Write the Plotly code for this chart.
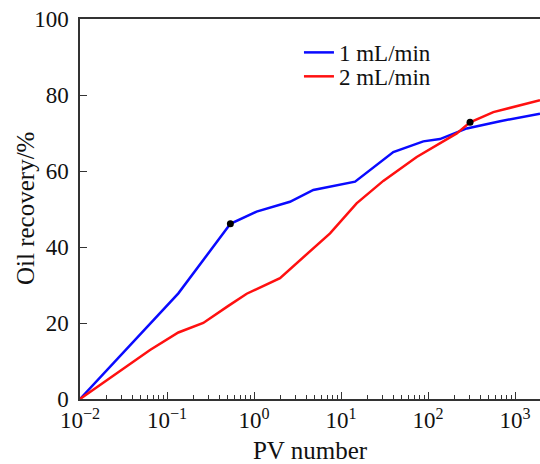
import plotly.graph_objects as go

# Data
pv_1 = [0.01, 0.135, 0.535, 1.07, 2.59, 4.81, 14.5, 39.9, 88.3, 137, 279, 673, 1936]
rec_1 = [0.0, 27.8, 46.1, 49.3, 51.9, 55.0, 57.2, 65.0, 67.8, 68.4, 71.2, 73.1, 75.1]

pv_2 = [0.01, 0.0638, 0.135, 0.261, 0.507, 0.824, 1.99, 3.6, 7.48, 15.1, 30.6, 74.1, 214, 304, 563, 1936]
rec_2 = [0.0, 12.9, 17.5, 20.0, 24.5, 27.7, 31.8, 37.0, 43.6, 51.5, 57.4, 63.7, 69.9, 72.8, 75.5, 78.6]

marker_pv = [0.535, 304]
marker_rec = [46.1, 72.8]

x_major = [0.01, 0.1, 1, 10, 100, 1000]
x_labels = ["10<sup>−2</sup>", "10<sup>−1</sup>", "10<sup>0</sup>", "10<sup>1</sup>", "10<sup>2</sup>", "10<sup>3</sup>"]
y_ticks = [0, 20, 40, 60, 80, 100]

minor_vals = [m * d for d in [0.01, 0.1, 1, 10, 100, 1000] for m in range(2, 10)]

FONT = "Liberation Serif"

fig = go.Figure()
fig.add_trace(go.Scatter(x=pv_1, y=rec_1, mode="lines", name="1 mL/min",
                         line=dict(color="#0a0aff", width=2.5), legend="legend"))
fig.add_trace(go.Scatter(x=pv_2, y=rec_2, mode="lines", name="2 mL/min",
                         line=dict(color="#ff1010", width=2.5), legend="legend2"))
fig.add_trace(go.Scatter(x=marker_pv, y=marker_rec, mode="markers", showlegend=False,
                         marker=dict(color="black", size=7)))

leg_common = dict(x=0.476, xanchor="left", yanchor="middle",
                  bgcolor="rgba(0,0,0,0)", font=dict(size=23, family=FONT, color="#111"))

fig.update_layout(
    width=540, height=464,
    margin=dict(l=80, r=0, t=19, b=65),
    paper_bgcolor="white", plot_bgcolor="white",
    font=dict(family=FONT, size=23, color="#111"),
    showlegend=True,
    legend=dict(y=0.912, **leg_common),
    legend2=dict(y=0.849, **leg_common),
    annotations=[dict(text="Oil recovery/%", xref="paper", yref="paper", x=0, y=0.5,
                      xanchor="center", yanchor="middle", xshift=-55, textangle=-90,
                      showarrow=False, font=dict(size=25, family=FONT, color="#111"))],
)
fig.update_xaxes(
    type="log", range=[-2, 3.287],
    tickvals=x_major, ticktext=x_labels,
    ticks="inside", ticklen=7, tickwidth=1.2, tickcolor="#333",
    minor=dict(tickvals=minor_vals, ticks="inside", ticklen=4, tickwidth=1.2, tickcolor="#333"),
    showline=True, linecolor="#333", linewidth=1.5, mirror=True,
    showgrid=False, zeroline=False,
    title=dict(text="PV number", font=dict(size=25, family=FONT), standoff=11),
    tickfont=dict(size=23, family=FONT),
)
fig.update_yaxes(
    range=[0, 100], tickvals=y_ticks,
    ticks="inside", ticklen=7, tickwidth=1.2, tickcolor="#333",
    showline=True, linecolor="#333", linewidth=1.5, mirror=False,
    showgrid=False, zeroline=False, ticklabelstandoff=5,
    tickfont=dict(size=23, family=FONT),
)

fig.write_html("out.html")
